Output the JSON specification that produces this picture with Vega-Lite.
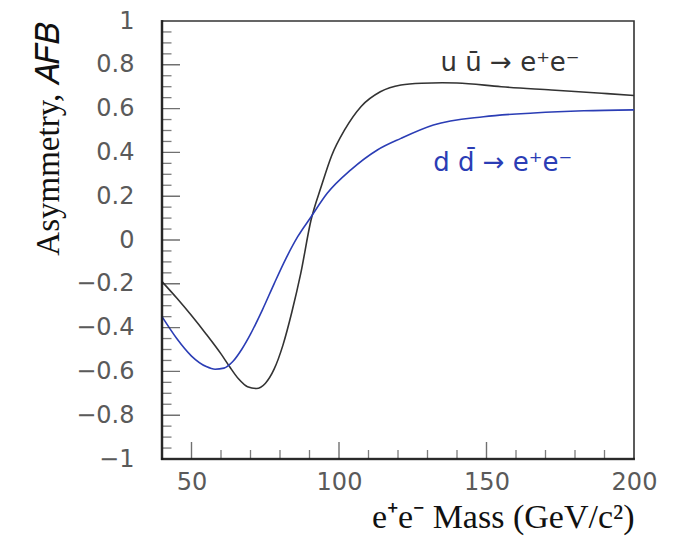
{
  "$schema": "https://vega.github.io/schema/vega-lite/v6.json",
  "width": 472,
  "height": 438,
  "padding": {"left": 32, "top": 9, "right": 5, "bottom": 5},
  "config": {"view": {"stroke": "#333333", "strokeWidth": 1.6}},
  "datasets": {
    "curves": [
      {"mass": 40, "afb": -0.19, "series": "uu"},
      {"mass": 45, "afb": -0.265, "series": "uu"},
      {"mass": 50, "afb": -0.345, "series": "uu"},
      {"mass": 55, "afb": -0.43, "series": "uu"},
      {"mass": 60, "afb": -0.52, "series": "uu"},
      {"mass": 63, "afb": -0.58, "series": "uu"},
      {"mass": 66, "afb": -0.635, "series": "uu"},
      {"mass": 69, "afb": -0.67, "series": "uu"},
      {"mass": 72, "afb": -0.678, "series": "uu"},
      {"mass": 75, "afb": -0.655, "series": "uu"},
      {"mass": 78, "afb": -0.59, "series": "uu"},
      {"mass": 81, "afb": -0.48, "series": "uu"},
      {"mass": 84, "afb": -0.33, "series": "uu"},
      {"mass": 87, "afb": -0.155, "series": "uu"},
      {"mass": 90.5, "afb": 0.09, "series": "uu"},
      {"mass": 94, "afb": 0.245, "series": "uu"},
      {"mass": 97.5, "afb": 0.385, "series": "uu"},
      {"mass": 102, "afb": 0.505, "series": "uu"},
      {"mass": 107.5, "afb": 0.61, "series": "uu"},
      {"mass": 114, "afb": 0.677, "series": "uu"},
      {"mass": 121, "afb": 0.708, "series": "uu"},
      {"mass": 128, "afb": 0.716, "series": "uu"},
      {"mass": 135, "afb": 0.718, "series": "uu"},
      {"mass": 140, "afb": 0.717, "series": "uu"},
      {"mass": 155, "afb": 0.7, "series": "uu"},
      {"mass": 172, "afb": 0.685, "series": "uu"},
      {"mass": 189, "afb": 0.67, "series": "uu"},
      {"mass": 200, "afb": 0.66, "series": "uu"},
      {"mass": 40, "afb": -0.35, "series": "dd"},
      {"mass": 45, "afb": -0.45, "series": "dd"},
      {"mass": 50, "afb": -0.53, "series": "dd"},
      {"mass": 55, "afb": -0.578, "series": "dd"},
      {"mass": 58, "afb": -0.59, "series": "dd"},
      {"mass": 61, "afb": -0.585, "series": "dd"},
      {"mass": 64, "afb": -0.555, "series": "dd"},
      {"mass": 67, "afb": -0.5, "series": "dd"},
      {"mass": 70, "afb": -0.43, "series": "dd"},
      {"mass": 74, "afb": -0.32, "series": "dd"},
      {"mass": 78, "afb": -0.2, "series": "dd"},
      {"mass": 82, "afb": -0.085, "series": "dd"},
      {"mass": 86, "afb": 0.015, "series": "dd"},
      {"mass": 90.5, "afb": 0.105, "series": "dd"},
      {"mass": 96, "afb": 0.213, "series": "dd"},
      {"mass": 104, "afb": 0.32, "series": "dd"},
      {"mass": 113, "afb": 0.411, "series": "dd"},
      {"mass": 121, "afb": 0.464, "series": "dd"},
      {"mass": 132, "afb": 0.525, "series": "dd"},
      {"mass": 149, "afb": 0.563, "series": "dd"},
      {"mass": 166, "afb": 0.58, "series": "dd"},
      {"mass": 183, "afb": 0.59, "series": "dd"},
      {"mass": 200, "afb": 0.594, "series": "dd"}
    ],
    "labels": [
      {"mass": 158, "afb": 0.81, "series": "uu", "text": "u ū → e⁺e⁻"},
      {"mass": 155.5, "afb": 0.35, "series": "dd", "text": "d d̄ → e⁺e⁻"}
    ],
    "yMajor": [{"v": -0.8}, {"v": -0.6}, {"v": -0.4}, {"v": -0.2}, {"v": 0}, {"v": 0.2}, {"v": 0.4}, {"v": 0.6}, {"v": 0.8}],
    "yMinor": [{"v": -0.95}, {"v": -0.9}, {"v": -0.85}, {"v": -0.75}, {"v": -0.7}, {"v": -0.65}, {"v": -0.55}, {"v": -0.5}, {"v": -0.45}, {"v": -0.35}, {"v": -0.3}, {"v": -0.25}, {"v": -0.15}, {"v": -0.1}, {"v": -0.05}, {"v": 0.05}, {"v": 0.1}, {"v": 0.15}, {"v": 0.25}, {"v": 0.3}, {"v": 0.35}, {"v": 0.45}, {"v": 0.5}, {"v": 0.55}, {"v": 0.65}, {"v": 0.7}, {"v": 0.75}, {"v": 0.85}, {"v": 0.9}, {"v": 0.95}],
    "xMajor": [{"v": 50}, {"v": 100}, {"v": 150}],
    "xMinor": [{"v": 60}, {"v": 70}, {"v": 80}, {"v": 90}, {"v": 110}, {"v": 120}, {"v": 130}, {"v": 140}, {"v": 160}, {"v": 170}, {"v": 180}, {"v": 190}]
  },
  "layer": [
    {
      "data": {"name": "curves"},
      "mark": {"type": "line", "strokeWidth": 1.6, "interpolate": "monotone"},
      "encoding": {
        "x": {"field": "mass", "type": "quantitative", "scale": {"domain": [40, 200], "nice": false, "zero": false}, "axis": {
          "values": [50, 100, 150, 200], "format": "d",
          "title": "e⁺e⁻ Mass (GeV/c²)", "titleFont": "Liberation Serif", "titleFontSize": 34, "titleFontWeight": "normal", "titleColor": "#111111",
          "titleAnchor": "end", "titlePadding": 6,
          "labelFont": "DejaVu Sans", "labelFontSize": 24, "labelColor": "#5a5a5a", "labelPadding": 11,
          "ticks": false, "domain": false, "grid": false, "labelFlush": false
        }},
        "y": {"field": "afb", "type": "quantitative", "scale": {"domain": [-1, 1], "nice": false, "zero": false}, "axis": {
          "values": [-1, -0.8, -0.6, -0.4, -0.2, 0, 0.2, 0.4, 0.6, 0.8, 1], "format": "~g",
          "title": "Asymmetry, 𝐴𝐹𝐵", "titleFont": "Liberation Serif", "titleFontSize": 33, "titleFontWeight": "normal", "titleColor": "#111111",
          "titleAnchor": "end", "titlePadding": 10,
          "labelFont": "DejaVu Sans", "labelFontSize": 24, "labelColor": "#5a5a5a", "labelPadding": 28,
          "ticks": false, "domain": false, "grid": false, "labelFlush": false
        }},
        "color": {"field": "series", "type": "nominal", "scale": {"domain": ["uu", "dd"], "range": ["#333333", "#2b3db5"]}, "legend": null}
      }
    },
    {
      "data": {"name": "yMajor"},
      "mark": {"type": "tick", "orient": "horizontal", "size": 36, "thickness": 1.4, "color": "#333333", "clip": true},
      "encoding": {
        "x": {"datum": 40, "type": "quantitative"},
        "y": {"field": "v", "type": "quantitative"}
      }
    },
    {
      "data": {"name": "yMinor"},
      "mark": {"type": "tick", "orient": "horizontal", "size": 19, "thickness": 1.3, "color": "#444444", "clip": true},
      "encoding": {
        "x": {"datum": 40, "type": "quantitative"},
        "y": {"field": "v", "type": "quantitative"}
      }
    },
    {
      "data": {"name": "xMajor"},
      "mark": {"type": "tick", "orient": "vertical", "size": 34, "thickness": 1.4, "color": "#333333", "clip": true},
      "encoding": {
        "x": {"field": "v", "type": "quantitative"},
        "y": {"datum": -1, "type": "quantitative"}
      }
    },
    {
      "data": {"name": "xMinor"},
      "mark": {"type": "tick", "orient": "vertical", "size": 18, "thickness": 1.3, "color": "#444444", "clip": true},
      "encoding": {
        "x": {"field": "v", "type": "quantitative"},
        "y": {"datum": -1, "type": "quantitative"}
      }
    },
    {
      "data": {"values": [{"edge": "left"}]},
      "mark": {"type": "tick", "orient": "vertical", "size": 440, "thickness": 2.6, "color": "#111111"},
      "encoding": {
        "x": {"datum": 40, "type": "quantitative"},
        "y": {"datum": 0, "type": "quantitative"}
      }
    },
    {
      "data": {"values": [{"edge": "bottom"}]},
      "mark": {"type": "tick", "orient": "horizontal", "size": 474, "thickness": 2.6, "color": "#111111"},
      "encoding": {
        "x": {"datum": 120, "type": "quantitative"},
        "y": {"datum": -1, "type": "quantitative"}
      }
    },
    {
      "data": {"name": "labels"},
      "mark": {"type": "text", "font": "DejaVu Sans", "fontSize": 26, "align": "center", "baseline": "middle"},
      "encoding": {
        "text": {"field": "text"},
        "x": {"field": "mass", "type": "quantitative"},
        "y": {"field": "afb", "type": "quantitative"},
        "color": {"field": "series", "type": "nominal", "legend": null}
      }
    }
  ]
}
